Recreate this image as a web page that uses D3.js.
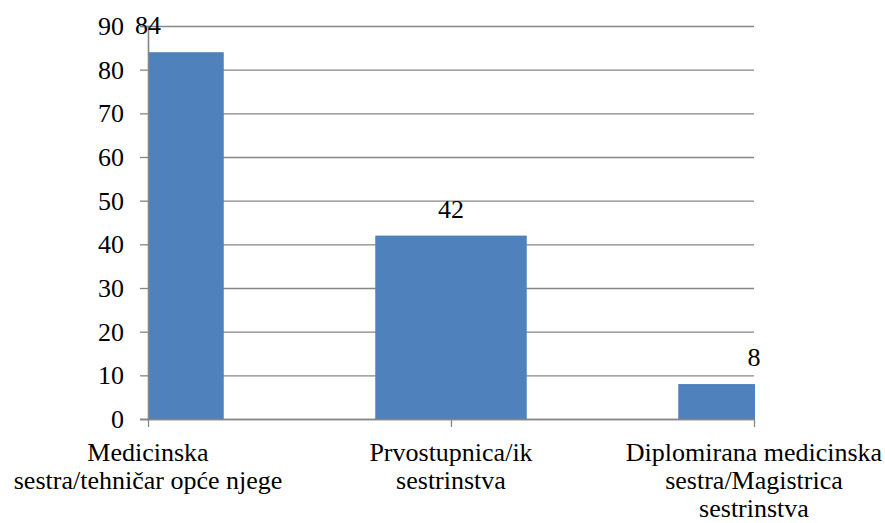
<!DOCTYPE html>
<html>
<head>
<meta charset="utf-8">
<script src="https://cdn.jsdelivr.net/npm/d3@7"></script>
</head>
<body style="margin:0">
<script>
// Chart data
const categories = ["Medicinska sestra/tehničar opće njege", "Prvostupnica/ik sestrinstva", "Diplomirana medicinska sestra/Magistrica sestrinstva"];
const categoryLines = [
    ["Medicinska", "sestra/tehničar opće njege"],
    ["Prvostupnica/ik", "sestrinstva"],
    ["Diplomirana medicinska", "sestra/Magistrica", "sestrinstva"]
];
const values = [84, 42, 8];
const yTickValues = [0, 10, 20, 30, 40, 50, 60, 70, 80, 90];

const W = 885, H = 523;
const margin = {top: 26, left: 148, right: 131, bottom: 104};
const gridColor = "#868686";
const barColor = "#4F81BD";

const svg = d3.select("body").append("svg")
    .attr("width", W)
    .attr("height", H);

// Scales in page coordinates; categories sit on the tick marks so the outer bars are cut in half
const x = d3.scalePoint()
    .domain(categories)
    .range([margin.left, W - margin.right]);

const y = d3.scaleLinear()
    .domain([0, 90])
    .range([H - margin.bottom, margin.top]);

const barWidth = x.step() / 2;

// Gridlines
const grid = svg.append("g")
    .attr("transform", "translate(" + margin.left + ",0)")
    .call(d3.axisLeft(y)
        .tickValues(yTickValues)
        .tickSize(-(W - margin.left - margin.right))
        .tickFormat(""));
grid.select("path").remove();
grid.selectAll("line").attr("stroke", gridColor).attr("stroke-width", 1.3);

// Bars, clipped to the plot area
svg.append("defs").append("clipPath")
    .attr("id", "plot-clip")
    .append("rect")
    .attr("x", margin.left).attr("y", 0)
    .attr("width", W - margin.left - margin.right + 1).attr("height", H - margin.bottom);

svg.selectAll("rect.bar")
    .data(values)
    .enter().append("rect")
    .attr("class", "bar")
    .attr("clip-path", "url(#plot-clip)")
    .attr("x", function(d, i) { return x(categories[i]) - barWidth / 2; })
    .attr("width", barWidth)
    .attr("y", function(d) { return y(d); })
    .attr("height", function(d) { return y(0) - y(d); })
    .attr("fill", barColor);

// Y axis (tick marks)
const yAxis = svg.append("g")
    .attr("transform", "translate(" + margin.left + ",0)")
    .call(d3.axisLeft(y).tickValues(yTickValues).tickSize(8).tickFormat(""));
yAxis.select("path").attr("stroke", gridColor).attr("stroke-width", 1.6);
yAxis.selectAll("line").attr("stroke", gridColor).attr("stroke-width", 1.3);

// X axis
const xAxis = svg.append("g")
    .attr("transform", "translate(0," + y(0) + ")")
    .call(d3.axisBottom(x).tickSize(8).tickSizeOuter(0).tickFormat(""));
xAxis.select("path")
    .attr("d", "M" + (margin.left - 8) + ",0.5H" + (W - margin.right))
    .attr("stroke", gridColor).attr("stroke-width", 1.6);
xAxis.selectAll("line").attr("stroke", gridColor).attr("stroke-width", 1.3);

// All texts go straight on the svg root
function serif(sel) {
    return sel.style("font-family", "'Liberation Serif'")
        .style("font-size", "26px")
        .style("fill", "#000");
}

// Y tick labels
serif(svg.selectAll("text.ytick")
    .data(yTickValues)
    .enter().append("text")
    .attr("class", "ytick")
    .attr("x", margin.left - 24)
    .attr("y", function(d) { return y(d) + 9; })
    .attr("text-anchor", "end")
    .text(function(d) { return d; }));

// Category labels, wrapped as in the original
const catRows = [];
categoryLines.forEach(function(lines, i) {
    lines.forEach(function(line, j) { catRows.push({cat: categories[i], line: line, row: j}); });
});
serif(svg.selectAll("text.cat")
    .data(catRows)
    .enter().append("text")
    .attr("class", "cat")
    .attr("text-anchor", "middle")
    .attr("x", function(d) { return x(d.cat); })
    .attr("y", function(d) { return y(0) + 42 + d.row * 28; })
    .text(function(d) { return d.line; }));

// Value labels above the bars
serif(svg.selectAll("text.val")
    .data(values)
    .enter().append("text")
    .attr("class", "val")
    .attr("text-anchor", "middle")
    .attr("x", function(d, i) { return x(categories[i]); })
    .attr("y", function(d) { return y(d) - 18; })
    .text(function(d) { return d; }));
</script>
</body>
</html>
